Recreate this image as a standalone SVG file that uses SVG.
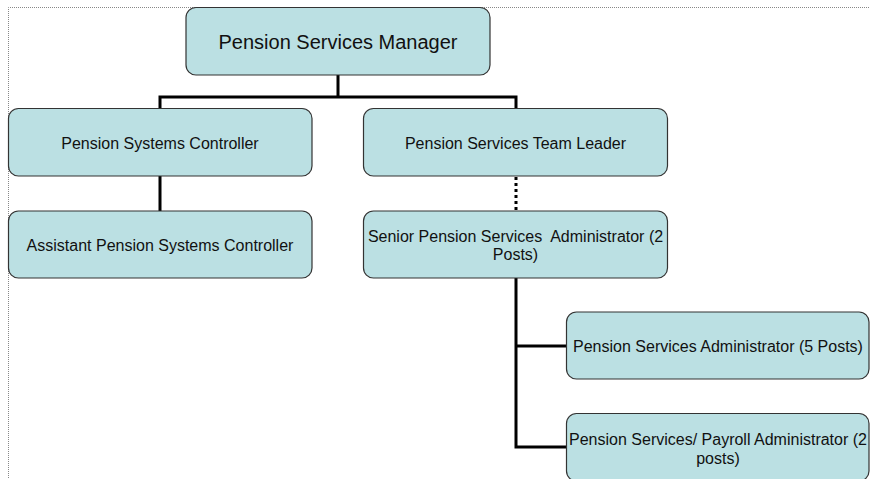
<svg xmlns="http://www.w3.org/2000/svg" width="870" height="479" viewBox="0 0 870 479">
<style>
.box{fill:#BBE0E3;stroke:#333;stroke-width:1.2}
.t{font-family:"Liberation Sans",Arial,sans-serif;font-size:16px;fill:#111;text-anchor:middle}
.big{font-size:20px}
.c{fill:none;stroke:#000;stroke-width:3}
.d{fill:none;stroke:#000;stroke-width:3;stroke-dasharray:3 3}
.frame{fill:none;stroke:#888;stroke-width:1;stroke-dasharray:1 1}
</style>
<rect width="870" height="479" fill="#fff"/>
<path class="frame" d="M8.5,478 V7.5 H870"/>
<g id="connectors">
<path class="c" d="M338,75 V97 M160,97 H516 M160,95.5 V108.5 M516,95.5 V108.5 M160,176 V211"/>
<path class="d" d="M516,177 V211"/>
<path class="c" d="M516,278 V447 H566.5 M516,346 H566.5"/>
</g>
<g id="manager">
<rect class="box" x="186" y="7.5" width="304" height="67.5" rx="10"/>
<text class="t big" x="338" y="49">Pension Services Manager</text>
</g>
<g id="systems-controller">
<rect class="box" x="8.5" y="108.5" width="303.5" height="67.5" rx="10"/>
<text class="t" x="160" y="148.5">Pension Systems Controller</text>
</g>
<g id="team-leader">
<rect class="box" x="363.5" y="108.5" width="304" height="67.5" rx="10"/>
<text class="t" x="515.5" y="148.5">Pension Services Team Leader</text>
</g>
<g id="assistant-controller">
<rect class="box" x="8.5" y="211" width="303.5" height="67" rx="10"/>
<text class="t" x="160" y="250.5">Assistant Pension Systems Controller</text>
</g>
<g id="senior-administrator">
<rect class="box" x="363.5" y="211" width="304" height="67" rx="10"/>
<text class="t" x="515.5" y="241.5" xml:space="preserve">Senior Pension Services  Administrator (2</text>
<text class="t" x="515.5" y="260">Posts)</text>
</g>
<g id="administrator">
<rect class="box" x="566.5" y="312" width="302.5" height="67" rx="10"/>
<text class="t" x="718" y="351.5">Pension Services Administrator (5 Posts)</text>
</g>
<g id="payroll-administrator">
<rect class="box" x="566.5" y="413.5" width="302.5" height="67.5" rx="10"/>
<text class="t" x="718" y="445">Pension Services/ Payroll Administrator (2</text>
<text class="t" x="718" y="463.5">posts)</text>
</g>
</svg>
